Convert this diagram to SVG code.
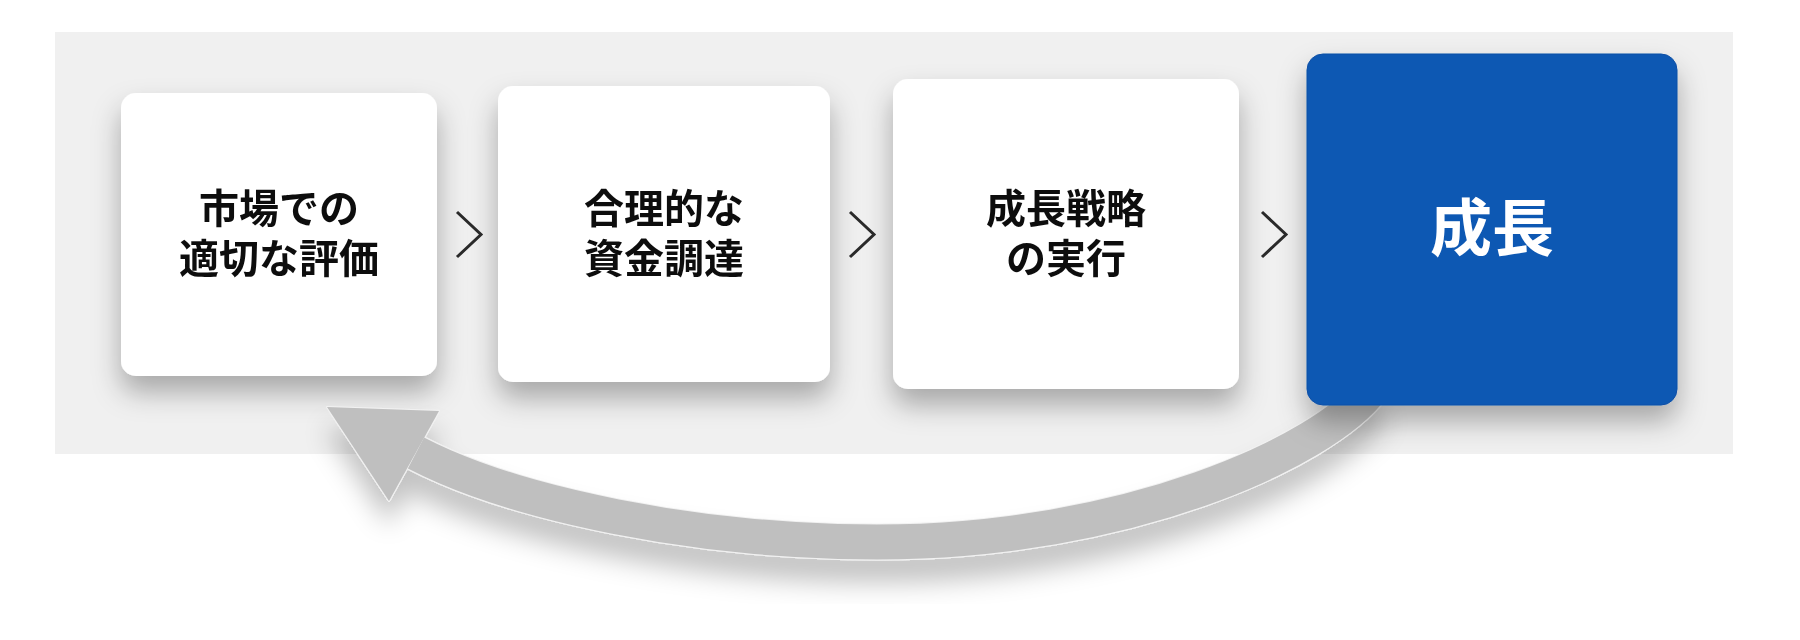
<svg xmlns="http://www.w3.org/2000/svg" width="1800" height="640" viewBox="0 0 1800 640">
<defs>
<style>
.card{fill:#ffffff;}
.lbl{font-family:"Noto Sans CJK JP","Noto Sans CJK SC",sans-serif;font-weight:700;font-size:40px;fill:#111111;text-anchor:middle;}
.big{font-family:"Noto Sans CJK JP","Noto Sans CJK SC",sans-serif;font-weight:700;font-size:62px;fill:#ffffff;text-anchor:middle;}
.chev{fill:none;stroke:#2a2a2a;stroke-width:3;}
</style>
<filter id="sh" x="-20%" y="-20%" width="140%" height="150%">
<feDropShadow dx="0" dy="16" stdDeviation="14" flood-color="#000" flood-opacity="0.3"/>
</filter>
<filter id="ash" x="-10%" y="-30%" width="120%" height="170%">
<feDropShadow dx="0" dy="22" stdDeviation="13" flood-color="#000" flood-opacity="0.24"/>
</filter>
</defs>
<rect x="0" y="0" width="1800" height="640" fill="#ffffff"/>
<rect id="panel" x="55" y="32" width="1678" height="422" fill="#f0f0f0"/>

<g id="node1" filter="url(#sh)">
<rect class="card" x="121" y="93" width="316" height="283" rx="15"/>
<text class="lbl"><tspan x="279" y="223">市場での</tspan><tspan x="279" y="273">適切な評価</tspan></text>
</g>
<g id="node2" filter="url(#sh)">
<rect class="card" x="498" y="86" width="332" height="296" rx="15"/>
<text class="lbl"><tspan x="664" y="223">合理的な</tspan><tspan x="664" y="273">資金調達</tspan></text>
</g>
<g id="node3" filter="url(#sh)">
<rect class="card" x="893" y="79" width="346" height="310" rx="15"/>
<text class="lbl"><tspan x="1066" y="223">成長戦略</tspan><tspan x="1066" y="273">の実行</tspan></text>
</g>

<g id="connectors">
<polyline class="chev" points="457,212 481,234.5 457,257"/>
<polyline class="chev" points="850,212 874,234.5 850,257"/>
<polyline class="chev" points="1262,212 1286,234.5 1262,257"/>
<g id="loop-arrow" filter="url(#ash)">
<path d="M1372 388 C1324 452 1127 542 877 542 C697 542 513.6 503.8 416 453" fill="none" stroke="#f2f2f2" stroke-width="37"/>
<polygon points="327,407 439,411 389,501" fill="#f2f2f2" stroke="#f2f2f2" stroke-width="2" stroke-linejoin="round"/>
<path d="M1372 388 C1324 452 1127 542 877 542 C697 542 513.6 503.8 416 453" fill="none" stroke="#bfbfbf" stroke-width="35"/>
<polygon points="327,407 439,411 389,501" fill="#bfbfbf"/>
</g>
</g>

<g id="node4" filter="url(#sh)">
<rect x="1307" y="54" width="370" height="351" rx="16" fill="#1059b3" stroke="#0c4ea6" stroke-width="1"/>
<text class="big" x="1492" y="251">成長</text>
</g>
</svg>
